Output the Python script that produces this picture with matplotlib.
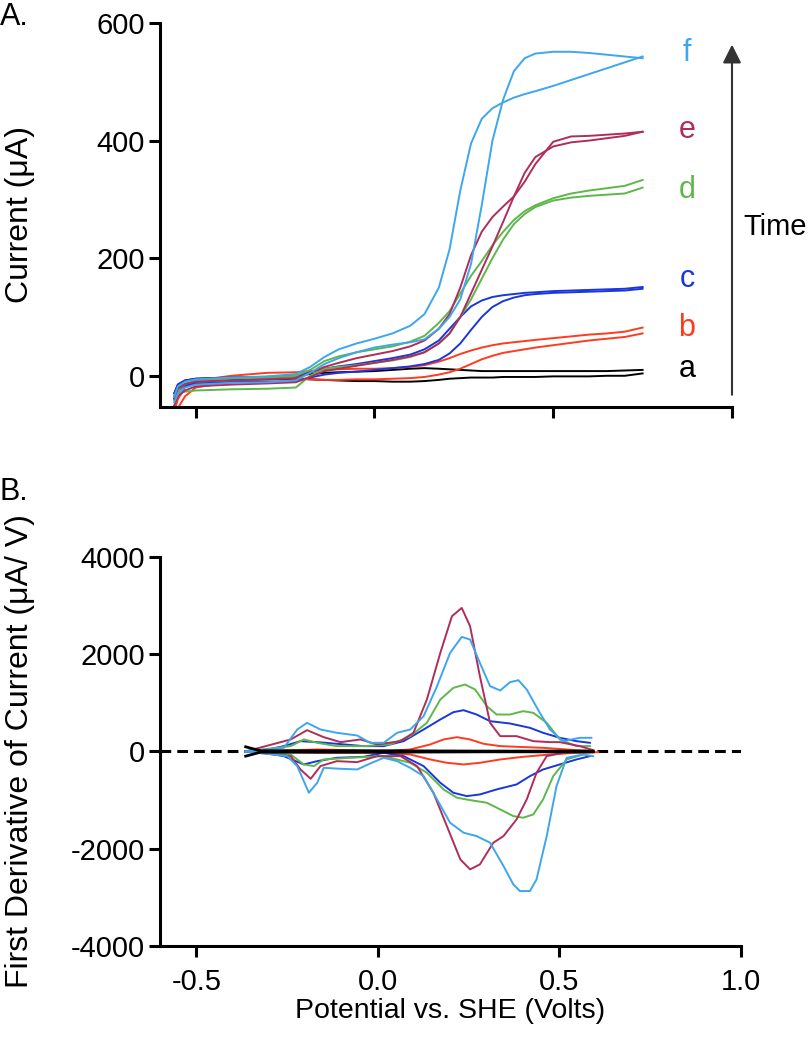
import matplotlib
matplotlib.use("Agg")
import matplotlib.pyplot as plt

plt.rcParams['font.family'] = ['Liberation Sans', 'DejaVu Sans']

# ---- panel A: cyclic voltammograms (two branches per scan) ----
E_top = [-0.56, -0.55, -0.53, -0.50, -0.40, -0.30, -0.22, -0.18, -0.14, -0.10, -0.05,
         0.00, 0.05, 0.10, 0.14, 0.18, 0.21, 0.24, 0.27, 0.30, 0.33, 0.36, 0.39, 0.42,
         0.45, 0.50, 0.55, 0.60, 0.65, 0.70, 0.75]

a_up = [-30, -15, -8, -5, -3, -2, 0, 3, 5, 6, 7, 8, 10, 12, 13, 12, 11, 10, 9, 8, 8, 8, 8, 8,
        8, 8, 8, 8, 8, 9, 10]
a_dn = [-35, -22, -14, -10, -7, -6, -5, -6, -7, -8, -9, -9, -10, -10, -9, -7, -5, -4, -3, -3,
        -3, -2, -2, -2, -2, -1, -1, -1, 0, 0, 4]
b_up = [-60, -40, -20, -8, 0, 5, 6, 8, 10, 11, 12, 12, 13, 15, 18, 24, 30, 37, 43, 48, 52, 55,
        57, 59, 61, 64, 67, 70, 72, 75, 82]
b_dn = [-70, -55, -35, -20, -10, -5, -4, -6, -7, -7, -6, -6, -5, -4, -2, 2, 6, 12, 20, 28, 34,
        39, 42, 45, 48, 52, 56, 60, 63, 66, 72]
c_up = [-30, -15, -8, -5, -3, -2, 0, 6, 12, 16, 20, 25, 30, 36, 45, 60, 80, 100, 118, 128, 134,
        137, 139, 141, 142, 144, 145, 146, 147, 148, 151]
c_dn = [-38, -25, -17, -13, -11, -10, -9, -3, 2, 5, 7, 10, 13, 16, 20, 27, 38, 55, 78, 100, 117,
        127, 133, 137, 139, 141, 142, 143, 144, 145, 148]
d_up = [-42, -25, -14, -8, -5, -3, 0, 10, 25, 33, 40, 45, 50, 58, 68, 90, 110, 140, 170, 195,
        222, 245, 265, 280, 290, 302, 310, 315, 319, 323, 333]
d_dn = [-35, -30, -27, -25, -23, -22, -20, 0, 12, 15, 18, 22, 26, 32, 40, 55, 72, 100, 130, 165,
        200, 232, 258, 275, 287, 298, 303, 306, 308, 310, 320]
e_up = [-40, -22, -14, -10, -8, -6, -4, 5, 15, 22, 30, 36, 42, 50, 60, 80, 105, 150, 205, 245,
        270, 288, 305, 330, 360, 398, 407, 408, 410, 412, 415]
e_dn = [-50, -35, -25, -18, -15, -13, -11, -2, 8, 12, 17, 22, 27, 33, 40, 55, 72, 100, 140, 180,
        220, 262, 305, 345, 372, 390, 397, 400, 404, 408, 415]
f_up = [-35, -18, -10, -6, -3, -1, 3, 15, 32, 45, 55, 63, 72, 85, 105, 150, 215, 315, 395, 437,
        455, 465, 473, 479, 484, 493, 503, 513, 523, 533, 543]
f_dn = [-45, -30, -20, -15, -12, -11, -8, 5, 20, 30, 40, 48, 53, 57, 62, 80, 100, 130, 190, 290,
        400, 470, 518, 540, 548, 551, 551, 549, 546, 543, 540]

# label heights at right end of panel A
labels = ['a', 'b', 'c', 'd', 'e', 'f']
label_y = [12, 82, 165, 316, 418, 549]
colors = ['#000000', '#FF3B1E', '#1A36DD', '#5DB849', '#B02D5A', '#3DA6EC']

# ---- panel B: first derivative (positive and negative sweeps) ----
a_px = [-0.364, -0.323, 0.016, 0.291, 0.593]
a_py = [96, 14, 14, 7, 7]
a_nx = [-0.364, -0.323, 0.016, 0.291, 0.593]
a_ny = [-96, -14, -14, -7, -7]

b_px = [-0.364, -0.167, -0.076, 0.016, 0.089, 0.144, 0.181, 0.218, 0.254, 0.291, 0.337, 0.382,
        0.455, 0.520, 0.593]
b_py = [0, 41, 27, 7, 41, 144, 247, 294, 247, 158, 110, 96, 75, 41, 7]
b_nx = [-0.364, -0.167, 0.016, 0.089, 0.144, 0.190, 0.236, 0.281, 0.337, 0.400, 0.474, 0.547,
        0.607]
b_ny = [0, -27, -27, -62, -164, -233, -267, -233, -164, -110, -62, -27, -14]

c_px = [-0.364, -0.323, -0.259, -0.213, -0.167, -0.113, -0.039, 0.016, 0.071, 0.126, 0.172,
        0.208, 0.236, 0.272, 0.309, 0.364, 0.419, 0.455, 0.501, 0.547, 0.584]
c_py = [0, 7, 110, 212, 192, 158, 110, 110, 212, 452, 658, 808, 849, 760, 623, 575, 486, 384,
        281, 212, 178]
c_nx = [-0.364, -0.323, -0.259, -0.204, -0.167, -0.113, -0.039, 0.016, 0.071, 0.126, 0.172,
        0.208, 0.245, 0.281, 0.327, 0.382, 0.419, 0.455, 0.501, 0.547, 0.584]
c_ny = [0, -14, -96, -267, -199, -130, -110, -27, -96, -301, -644, -849, -918, -884, -781,
        -678, -507, -370, -267, -164, -96]

d_px = [-0.364, -0.240, -0.204, -0.167, -0.113, -0.039, 0.034, 0.089, 0.135, 0.172, 0.208,
        0.240, 0.268, 0.300, 0.327, 0.364, 0.400, 0.428, 0.465, 0.501, 0.547, 0.584]
d_py = [0, 110, 247, 178, 110, 110, 144, 315, 589, 1069, 1308, 1377, 1274, 932, 760, 760, 829,
        795, 589, 247, 110, 110]
d_nx = [-0.364, -0.240, -0.204, -0.176, -0.149, -0.076, 0.016, 0.089, 0.135, 0.181, 0.218,
        0.254, 0.300, 0.337, 0.373, 0.400, 0.428, 0.455, 0.483, 0.520, 0.565]
d_ny = [0, -62, -267, -301, -164, -130, -96, -233, -438, -781, -952, -1000, -1055, -1192,
        -1329, -1363, -1295, -986, -507, -164, -62]

e_px = [-0.364, -0.240, -0.195, -0.149, -0.103, -0.048, -0.002, 0.062, 0.098, 0.135, 0.172,
        0.204, 0.231, 0.254, 0.281, 0.309, 0.337, 0.382, 0.428, 0.474, 0.501, 0.556, 0.593]
e_py = [0, 247, 438, 294, 192, 247, 144, 212, 384, 1069, 2028, 2781, 2952, 2576, 1548, 589,
        315, 315, 212, 192, 192, 110, 27]
e_nx = [-0.364, -0.240, -0.213, -0.185, -0.158, -0.113, -0.057, -0.002, 0.062, 0.108, 0.153,
        0.190, 0.227, 0.254, 0.281, 0.318, 0.346, 0.382, 0.410, 0.437, 0.465, 0.510, 0.593]
e_ny = [0, -96, -370, -562, -301, -199, -219, -96, -96, -301, -849, -1534, -2219, -2425, -2322,
        -1877, -1740, -1397, -986, -438, -96, -27, -14]

f_px = [-0.364, -0.259, -0.222, -0.195, -0.158, -0.113, -0.057, -0.021, 0.016, 0.053, 0.089,
        0.126, 0.163, 0.199, 0.231, 0.254, 0.281, 0.309, 0.337, 0.364, 0.387, 0.410, 0.446,
        0.474, 0.510, 0.556, 0.588]
f_py = [0, 75, 452, 589, 452, 384, 329, 178, 178, 384, 452, 726, 1343, 2028, 2356, 2302, 1822,
        1343, 1254, 1425, 1466, 1274, 795, 452, 212, 281, 281]
f_nx = [-0.364, -0.249, -0.222, -0.190, -0.167, -0.149, -0.103, -0.057, -0.021, 0.016, 0.053,
        0.089, 0.126, 0.163, 0.199, 0.236, 0.272, 0.309, 0.346, 0.373, 0.391, 0.419, 0.437,
        0.465, 0.492, 0.520, 0.565, 0.593]
f_ny = [0, -96, -301, -849, -644, -336, -356, -370, -247, -130, -199, -336, -507, -986, -1466,
        -1671, -1740, -1877, -2356, -2733, -2870, -2870, -2630, -1740, -712, -130, -62, -96]

fig = plt.figure(figsize=(8.1, 10.44), dpi=100)

# panel A
ax1 = fig.add_axes([0.1975, 0.6102, 0.7062, 0.3678])
top_curves = [(a_up, a_dn), (b_up, b_dn), (c_up, c_dn), (d_up, d_dn), (e_up, e_dn), (f_up, f_dn)]
for (up, dn), col in zip(top_curves, colors):
    ax1.plot(E_top, up, color=col, lw=1.4)
    ax1.plot(E_top, dn, color=col, lw=1.4)
for lab, ly, col in zip(labels, label_y, colors):
    ax1.text(0.874, ly, lab, color=col, fontsize=22, ha='center', va='center')
ax1.annotate('', xy=(1.0, 568), xytext=(1.0, -37),
             arrowprops=dict(arrowstyle='-|>', color='#333333', lw=1.5, mutation_scale=28),
             annotation_clip=False)
ax1.text(1.031, 253, 'Time', fontsize=21, ha='left', va='center')
ax1.set_xlim(-0.6, 1.0)
ax1.set_ylim(-53, 600)
ax1.set_xticks([-0.5, 0.0, 0.5, 1.0])
ax1.set_xticklabels([])
ax1.set_yticks([0, 200, 400, 600])
ax1.set_ylabel('Current (μA)', fontsize=23)
ax1.yaxis.set_label_coords(-0.218, 0.5)

# panel B
ax2 = fig.add_axes([0.1975, 0.0939, 0.7173, 0.3726])
ax2.plot([-0.6, 1.0], [0, 0], color='black', lw=2.2, ls=(0, (3.5, 2)))
bottom_curves = [(b_px, b_py, b_nx, b_ny), (c_px, c_py, c_nx, c_ny), (d_px, d_py, d_nx, d_ny),
                 (e_px, e_py, e_nx, e_ny), (f_px, f_py, f_nx, f_ny)]
for (px, py, nx, ny), col in zip(bottom_curves, colors[1:]):
    ax2.plot(px, py, color=col, lw=1.4)
    ax2.plot(nx, ny, color=col, lw=1.4)
ax2.plot(a_px, a_py, color='black', lw=2)
ax2.plot(a_nx, a_ny, color='black', lw=2)
ax2.set_xlim(-0.6, 1.0)
ax2.set_ylim(-4000, 4000)
ax2.set_xticks([-0.5, 0.0, 0.5, 1.0])
ax2.set_xticklabels(['-0.5', '0.0', '0.5', '1.0'])
ax2.set_yticks([-4000, -2000, 0, 2000, 4000])
ax2.set_yticklabels(['-4000', '-2000', '0', '2000', '4000'])
ax2.set_xlabel('Potential vs. SHE (Volts)', fontsize=20.5)
ax2.xaxis.set_label_coords(0.5, -0.134)
ax2.set_ylabel('First Derivative of Current (μA/ V)', fontsize=23)
ax2.yaxis.set_label_coords(-0.215, 0.5)

for ax in (ax1, ax2):
    for side in ('top', 'right'):
        ax.spines[side].set_visible(False)
    for side in ('left', 'bottom'):
        ax.spines[side].set_linewidth(2.2)
    ax.tick_params(direction='out', length=8, width=2.2, labelsize=21)
    ax.tick_params(axis='y', pad=3)
    ax.tick_params(axis='x', pad=8)

fig.text(0.0, 1 - 17 / 1044, 'A.', fontsize=22, va='center', ha='left')
fig.text(0.0, 1 - 492 / 1044, 'B.', fontsize=22, va='center', ha='left')

fig.savefig('out.png', dpi=100)
